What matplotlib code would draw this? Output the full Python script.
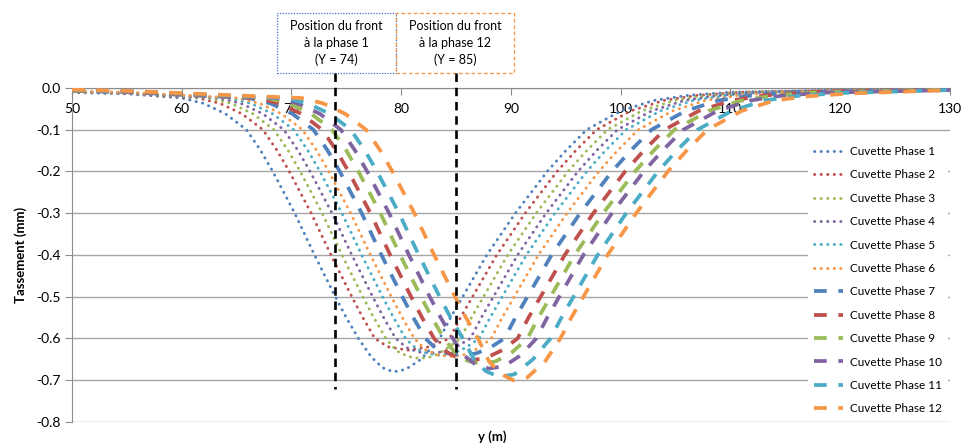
import matplotlib as mpl
mpl.use('Agg')
from matplotlib import pyplot as plt
from matplotlib.patches import Rectangle

mpl.rcParams['font.family'] = ['Lato', 'DejaVu Sans']
mpl.rcParams['axes.unicode_minus'] = False

# cuvettes de tassement (y en m, tassement en mm)
x1 = [50, 55, 60.0, 62.0, 64.0, 65.9, 67.2, 68.3, 70.3, 72.1, 74.0, 75.0, 76.1, 77.3, 78.3, 79.3, 80.4, 81.8,
      83.5, 84.5, 85.6, 87.8, 90.4, 93.3, 95.0, 96.9, 100.0, 103.0, 106.0, 110.0, 120, 130]
y1 = [-0.011, -0.014, -0.024, -0.037, -0.062, -0.10, -0.15, -0.20, -0.30, -0.40, -0.50, -0.55, -0.60, -0.645, -0.670, -0.680, -0.674, -0.650,
      -0.60, -0.55, -0.50, -0.40, -0.30, -0.20, -0.15, -0.10, -0.055, -0.030, -0.018, -0.010, -0.005, -0.003]

x2 = [50, 55, 61.5, 63.5, 65.5, 67.4, 68.7, 69.8, 71.8, 73.6, 75.5, 76.5, 77.6, 78.8, 80.6, 82.5,
      84.4, 85.4, 86.5, 88.7, 91.3, 94.2, 95.9, 97.8, 100.9, 103.9, 106.9, 110.9, 120, 130]
y2 = [-0.010, -0.013, -0.024, -0.037, -0.062, -0.10, -0.15, -0.20, -0.30, -0.40, -0.50, -0.55, -0.60, -0.620, -0.628, -0.620,
      -0.60, -0.55, -0.50, -0.40, -0.30, -0.20, -0.15, -0.10, -0.055, -0.030, -0.018, -0.010, -0.005, -0.003]

x3 = [50, 55, 62.5, 64.5, 66.5, 68.4, 69.7, 70.8, 72.8, 74.6, 76.5, 77.5, 78.6, 79.6, 80.6, 81.7, 82.9, 84.1,
      85.4, 86.4, 87.5, 89.7, 92.3, 95.2, 96.9, 98.8, 101.9, 104.9, 107.9, 111.9, 120, 130]
y3 = [-0.010, -0.012, -0.024, -0.037, -0.062, -0.10, -0.15, -0.20, -0.30, -0.40, -0.50, -0.55, -0.60, -0.630, -0.643, -0.648, -0.643, -0.625,
      -0.60, -0.55, -0.50, -0.40, -0.30, -0.20, -0.15, -0.10, -0.055, -0.030, -0.018, -0.010, -0.006, -0.003]

x4 = [50, 55, 63.4, 65.4, 67.4, 69.3, 70.6, 71.7, 73.7, 75.5, 77.4, 78.4, 79.5, 80.5, 81.5, 82.6, 83.8, 85.0,
      86.3, 87.3, 88.4, 90.6, 93.2, 96.1, 97.8, 99.7, 102.8, 105.8, 108.8, 112.8, 120, 130]
y4 = [-0.009, -0.012, -0.024, -0.037, -0.062, -0.10, -0.15, -0.20, -0.30, -0.40, -0.50, -0.55, -0.60, -0.622, -0.632, -0.635, -0.632, -0.620,
      -0.60, -0.55, -0.50, -0.40, -0.30, -0.20, -0.15, -0.10, -0.055, -0.030, -0.018, -0.010, -0.006, -0.003]

x5 = [50, 55, 64.3, 66.3, 68.3, 70.2, 71.5, 72.6, 74.6, 76.4, 78.3, 79.3, 80.4, 81.4, 82.4, 83.5, 84.7, 85.9,
      87.1, 88.1, 89.2, 91.4, 94.0, 96.9, 98.6, 100.5, 103.6, 106.6, 109.6, 113.6, 120, 130]
y5 = [-0.008, -0.011, -0.024, -0.037, -0.062, -0.10, -0.15, -0.20, -0.30, -0.40, -0.50, -0.55, -0.60, -0.625, -0.636, -0.640, -0.636, -0.622,
      -0.60, -0.55, -0.50, -0.40, -0.30, -0.20, -0.15, -0.10, -0.055, -0.030, -0.018, -0.010, -0.007, -0.004]

x6 = [50, 55, 65.1, 67.1, 69.1, 71.0, 72.3, 73.4, 75.4, 77.2, 79.1, 80.1, 81.2, 82.2, 83.3, 84.5, 85.7, 87.0,
      88.2, 89.2, 90.3, 92.5, 95.1, 98.0, 99.7, 101.6, 104.7, 107.7, 110.7, 114.7, 120, 130]
y6 = [-0.008, -0.010, -0.024, -0.037, -0.062, -0.10, -0.15, -0.20, -0.30, -0.40, -0.50, -0.55, -0.60, -0.627, -0.639, -0.643, -0.639, -0.624,
      -0.60, -0.55, -0.50, -0.40, -0.30, -0.20, -0.15, -0.10, -0.055, -0.030, -0.018, -0.010, -0.007, -0.004]

x7 = [50, 55, 66.1, 68.1, 70.1, 72.0, 73.3, 74.4, 76.4, 78.2, 80.1, 81.1, 82.2, 83.2, 84.3, 85.4, 86.8, 88.1,
      89.4, 90.4, 91.5, 93.7, 96.3, 99.2, 100.9, 102.8, 105.9, 108.9, 111.9, 115.9, 120, 130]
y7 = [-0.007, -0.010, -0.024, -0.037, -0.062, -0.10, -0.15, -0.20, -0.30, -0.40, -0.50, -0.55, -0.60, -0.625, -0.636, -0.640, -0.636, -0.622,
      -0.60, -0.55, -0.50, -0.40, -0.30, -0.20, -0.15, -0.10, -0.055, -0.030, -0.018, -0.010, -0.008, -0.004]

x8 = [50, 55, 66.9, 68.9, 70.9, 72.8, 74.1, 75.2, 77.2, 79.0, 80.9, 81.9, 83.0, 84.0, 85.1, 86.3, 87.7, 89.2,
      90.6, 91.6, 92.7, 94.9, 97.5, 100.4, 102.1, 104.0, 107.1, 110.1, 113.1, 117.1, 120, 130]
y8 = [-0.006, -0.009, -0.024, -0.037, -0.062, -0.10, -0.15, -0.20, -0.30, -0.40, -0.50, -0.55, -0.60, -0.630, -0.646, -0.652, -0.647, -0.628,
      -0.60, -0.55, -0.50, -0.40, -0.30, -0.20, -0.15, -0.10, -0.055, -0.030, -0.018, -0.010, -0.008, -0.004]

x9 = [50, 55, 67.8, 69.8, 71.8, 73.7, 75.0, 76.1, 78.1, 79.9, 81.8, 82.8, 83.9, 84.9, 86.0, 87.2, 88.6, 90.1,
      91.5, 92.5, 93.6, 95.8, 98.4, 101.3, 103.0, 104.9, 108.0, 111.0, 114.0, 118.0, 130]
y9 = [-0.006, -0.008, -0.024, -0.037, -0.062, -0.10, -0.15, -0.20, -0.30, -0.40, -0.50, -0.55, -0.60, -0.634, -0.653, -0.660, -0.655, -0.633,
      -0.60, -0.55, -0.50, -0.40, -0.30, -0.20, -0.15, -0.10, -0.055, -0.030, -0.018, -0.010, -0.004]

x10 = [50, 55, 68.6, 70.6, 72.6, 74.5, 75.8, 76.9, 78.9, 80.7, 82.6, 83.6, 84.7, 85.7, 86.8, 88.0, 89.4, 90.9,
       92.3, 93.3, 94.4, 96.6, 99.2, 102.1, 103.8, 105.7, 108.8, 111.8, 114.8, 118.8, 130]
y10 = [-0.005, -0.008, -0.024, -0.037, -0.062, -0.10, -0.15, -0.20, -0.30, -0.40, -0.50, -0.55, -0.60, -0.640, -0.663, -0.672, -0.666, -0.640,
       -0.60, -0.55, -0.50, -0.40, -0.30, -0.20, -0.15, -0.10, -0.055, -0.030, -0.018, -0.011, -0.005]

x11 = [50, 55, 69.5, 71.5, 73.5, 75.4, 76.7, 77.8, 79.8, 81.6, 83.5, 84.5, 85.6, 86.6, 87.7, 88.9, 90.3, 92.0,
       93.6, 94.6, 95.7, 97.9, 100.5, 103.4, 105.1, 107.0, 110.1, 113.1, 116.1, 120.1, 130]
y11 = [-0.005, -0.007, -0.024, -0.037, -0.062, -0.10, -0.15, -0.20, -0.30, -0.40, -0.50, -0.55, -0.60, -0.648, -0.678, -0.692, -0.686, -0.650,
       -0.60, -0.55, -0.50, -0.40, -0.30, -0.20, -0.15, -0.10, -0.055, -0.030, -0.019, -0.012, -0.005]

x12 = [50, 55, 70.9, 72.9, 74.9, 76.8, 78.1, 79.2, 81.2, 83.0, 84.9, 85.9, 87.0, 88.0, 89.1, 90.2, 91.5, 93.1,
       94.5, 95.5, 96.6, 98.8, 101.4, 104.3, 106.0, 107.9, 111.0, 114.0, 117.0, 121.0, 130]
y12 = [-0.004, -0.007, -0.024, -0.037, -0.062, -0.10, -0.15, -0.20, -0.30, -0.40, -0.50, -0.55, -0.60, -0.655, -0.685, -0.700, -0.693, -0.655,
       -0.60, -0.55, -0.50, -0.40, -0.30, -0.20, -0.15, -0.10, -0.055, -0.030, -0.020, -0.013, -0.005]

phases = [(x1, y1), (x2, y2), (x3, y3), (x4, y4), (x5, y5), (x6, y6),
          (x7, y7), (x8, y8), (x9, y9), (x10, y10), (x11, y11), (x12, y12)]
labels = ['Cuvette Phase %d' % i for i in range(1, 13)]

front_y = [74, 85]
front_text = ['Position du front\nà la phase 1\n(Y = 74)', 'Position du front\nà la phase 12\n(Y = 85)']

couleurs = ['#4F81BD', '#C0504D', '#9BBB59', '#8064A2', '#4BACC6', '#F79646']

fig = plt.figure(figsize=(9.62, 4.43), dpi=100)
ax = fig.add_axes([0.0748, 0.0474, 0.9127, 0.754])

for i, (xs, ys) in enumerate(phases):
    c = couleurs[i % 6]
    if i < 6:
        ax.plot(xs, ys, color=c, lw=2.1, linestyle=(0, (0.1, 2.15)),
                dash_capstyle='round', label=labels[i], zorder=3)
    else:
        ax.plot(xs, ys, color=c, lw=2.7, linestyle=(0, (3.4, 3.1)),
                dash_capstyle='butt', label=labels[i], zorder=3)

# fronts
for xf in front_y:
    ax.plot([xf, xf], [0.036, -0.72], color='black', lw=1.9,
            linestyle=(0, (3.2, 2.2)), clip_on=False, zorder=4)

bords = [('#4472C4', (0, (1, 1.2))), ('#F79646', (0, (3, 2)))]
for xf, txt, (ec, ls), xl, xr in zip(front_y, front_text, bords, [68.7, 79.55], [79.55, 90.3]):
    ax.add_patch(Rectangle((xl, 0.036), xr - xl, 0.1437, fill=False, edgecolor=ec,
                           lw=0.9, linestyle=ls, clip_on=False))
    ax.text((xl + xr) / 2, 0.036 + 0.1437 / 2, txt, ha='center', va='center',
            fontsize=9, linespacing=1.45, clip_on=False)

ax.set_xlim(50, 130)
ax.set_ylim(-0.8, 0.0)
ax.set_xticks(range(50, 131, 10))
ax.set_yticks([-0.8, -0.7, -0.6, -0.5, -0.4, -0.3, -0.2, -0.1, 0.0])
ax.set_yticklabels(['%.1f' % v for v in ax.get_yticks()])
ax.yaxis.grid(True, color='#A6A6A6', lw=1.0)
ax.set_axisbelow(True)

ax.spines['bottom'].set_position(('data', 0))
ax.spines['top'].set_visible(False)
ax.spines['right'].set_visible(False)
ax.spines['bottom'].set_color('#8C8C8C')
ax.spines['left'].set_color('#8C8C8C')
ax.tick_params(axis='x', direction='out', length=5, color='#8C8C8C', labelsize=10, pad=6)
ax.tick_params(axis='y', direction='out', length=5, color='#8C8C8C', labelsize=10, pad=3)

ax.set_ylabel('Tassement (mm)', fontsize=9.5, fontweight='bold', labelpad=7)
fig.text(0.512, 0.015, 'y (m)', ha='center', va='center', fontsize=9.5, fontweight='bold')

leg = ax.legend(loc='lower right', bbox_to_anchor=(1.0, 0.0), frameon=True, fontsize=8.5,
                handlelength=2.5, handletextpad=0.6, labelspacing=1.05,
                borderpad=0.5, borderaxespad=0.15)
leg.get_frame().set_facecolor('white')
leg.get_frame().set_edgecolor('none')
leg.get_frame().set_alpha(1)
leg.set_zorder(5)

fig.savefig('out.png', dpi=100)
